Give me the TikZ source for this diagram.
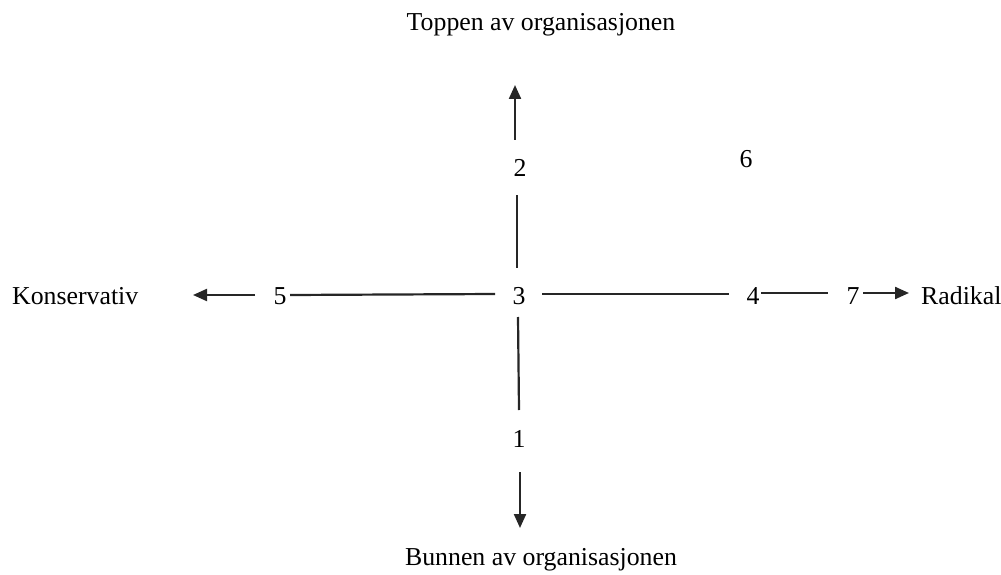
\documentclass[tikz,border=0pt]{standalone}
\usepackage{fontspec}
\setmainfont{Liberation Serif}
\usetikzlibrary{arrows.meta}
\begin{document}
\begin{tikzpicture}[x=1pt,y=-1pt,
  lbl/.style={inner sep=0pt,font=\fontsize{25.8}{30}\selectfont},
  ln/.style={line width=2.2pt,black!85},
  arr/.style={line width=2.2pt,black!85,-{Triangle[length=14pt,width=12pt]}}]
\useasboundingbox (0,0) rectangle (1001,575);
% labels
\node[lbl] (top) at (541,25) {Toppen av organisasjonen};
\node[lbl] (bot) at (541,560) {Bunnen av organisasjonen};
\node[lbl,anchor=west] (kons) at (12,296) {Konservativ};
\node[lbl,anchor=west] (rad) at (921,296) {Radikal};
\node[lbl] (n5) at (280,296) {5};
\node[lbl] (n3) at (519,296) {3};
\node[lbl] (n4) at (753,296) {4};
\node[lbl] (n7) at (853,296) {7};
\node[lbl] (n6) at (746,159) {6};
\node[lbl] (n2) at (520,168) {2};
\node[lbl] (n1) at (519,439) {1};
% coordinates
\coordinate (a5s) at (255,295);
\coordinate (a5e) at (193,295);
\coordinate (l53s) at (290,295);
\coordinate (l53e) at (495,294);
\coordinate (l34s) at (542,294);
\coordinate (l34e) at (729,294);
\coordinate (l47s) at (761,293);
\coordinate (l47e) at (828,293);
\coordinate (a7s) at (863,293);
\coordinate (a7e) at (909,293);
\coordinate (a2s) at (515,140);
\coordinate (a2e) at (515,85);
\coordinate (l23s) at (517,195);
\coordinate (l23e) at (517,268);
\coordinate (l31s) at (518,317);
\coordinate (l31e) at (519,410);
\coordinate (a1s) at (520,472);
\coordinate (a1e) at (520,528);
% connectors
\draw[arr] (a5s) -- (a5e);
\draw[ln] (l53s) -- (l53e);
\draw[ln] (l34s) -- (l34e);
\draw[ln] (l47s) -- (l47e);
\draw[arr] (a7s) -- (a7e);
\draw[arr] (a2s) -- (a2e);
\draw[ln] (l23s) -- (l23e);
\draw[ln] (l31s) -- (l31e);
\draw[arr] (a1s) -- (a1e);
\end{tikzpicture}
\end{document}
